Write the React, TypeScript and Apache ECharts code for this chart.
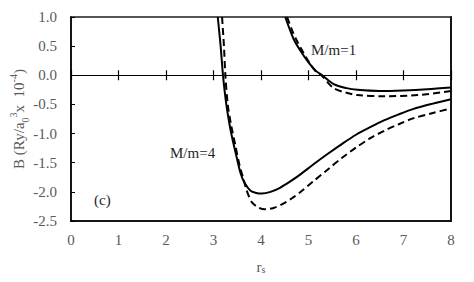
import React, { useEffect, useRef } from "react";
import * as echarts from "echarts";

// M/m = 1, solid
const m1SolidR = [4.51, 4.6, 4.7, 4.83, 5.0, 5.15, 5.29, 5.53, 5.8, 6.03, 6.5, 7.0, 7.5, 8.0];
const m1SolidB = [1.0, 0.8, 0.6, 0.42, 0.22, 0.08, 0.0, -0.15, -0.22, -0.25, -0.27, -0.26, -0.24, -0.21];
// M/m = 1, dashed
const m1DashR = [4.55, 4.65, 4.75, 4.87, 5.03, 5.15, 5.27, 5.53, 5.8, 6.03, 6.6, 7.3, 8.0];
const m1DashB = [1.0, 0.78, 0.6, 0.42, 0.2, 0.07, 0.0, -0.22, -0.3, -0.34, -0.36, -0.34, -0.27];
// M/m = 4, solid
const m4SolidR = [3.09, 3.15, 3.2, 3.27, 3.35, 3.42, 3.5, 3.57, 3.65, 3.78, 3.9, 4.02, 4.2, 4.4, 4.6, 4.83, 5.1, 5.4, 5.7, 6.0, 6.3, 6.6, 6.9, 7.2, 7.6, 8.0];
const m4SolidB = [1.0, 0.5, 0.0, -0.5, -0.9, -1.17, -1.45, -1.68, -1.84, -1.98, -2.02, -2.03, -2.0, -1.93, -1.83, -1.7, -1.53, -1.35, -1.18, -1.02, -0.89, -0.77, -0.67, -0.58, -0.49, -0.41];
// M/m = 4, dashed
const m4DashR = [3.18, 3.22, 3.25, 3.3, 3.37, 3.46, 3.55, 3.62, 3.7, 3.81, 3.95, 4.08, 4.25, 4.45, 4.65, 4.85, 5.1, 5.4, 5.7, 6.0, 6.3, 6.6, 6.9, 7.2, 7.6, 8.0];
const m4DashB = [1.0, 0.5, 0.0, -0.5, -0.85, -1.2, -1.55, -1.75, -1.98, -2.18, -2.27, -2.3, -2.28, -2.21, -2.11, -1.99, -1.82, -1.62, -1.42, -1.24, -1.08, -0.95, -0.84, -0.74, -0.65, -0.57];

const xTicks = { min: 0, max: 8, interval: 1 };
const yTicks = { min: -2.5, max: 1.0, interval: 0.5 };

const zip = (r: number[], b: number[]) => r.map((v, i) => [v, b[i]]);

const FONT = "Liberation Serif";
const GREY = "#595959";

export default function App() {
  const ref = useRef<HTMLDivElement>(null);
  useEffect(() => {
    if (!ref.current) return;
    const chart = echarts.init(ref.current, undefined, { renderer: "svg" });
    const lineSeries = (data: number[][], dashed: boolean) => ({
      type: "line",
      data,
      xAxisIndex: 0,
      yAxisIndex: 0,
      showSymbol: false,
      smooth: 0.3,
      clip: true,
      lineStyle: { color: "#000", width: 2, type: dashed ? [7, 4] : "solid" },
    });
    chart.setOption({
      animation: false,
      backgroundColor: "#fff",
      textStyle: { fontFamily: FONT },
      grid: {
        left: 71,
        right: 23,
        top: 17,
        bottom: 61,
        show: true,
        borderColor: "#555",
        borderWidth: 2,
        containLabel: false,
        outerBoundsMode: "none",
      },
      xAxis: [
        {
          type: "value",
          ...xTicks,
          position: "bottom",
          axisLine: { onZero: false, lineStyle: { color: "#000", width: 1.5 } },
          axisTick: { show: false },
          splitLine: { show: false },
          axisLabel: { color: GREY, fontFamily: FONT, fontSize: 15, margin: 11 },
          name: "r{s|s}",
          nameLocation: "middle",
          nameGap: 38,
          nameMoveOverlap: false,
          nameTextStyle: {
            color: GREY,
            fontFamily: FONT,
            fontSize: 15,
            rich: {
              s: { fontSize: 10, fontFamily: FONT, color: GREY, verticalAlign: "bottom", lineHeight: 12 },
            },
          },
        },
        {
          type: "value",
          ...xTicks,
          position: "bottom",
          axisLine: { onZero: true, lineStyle: { color: "#000", width: 1.2 } },
          axisTick: { show: true, inside: true, length: 5, lineStyle: { color: "#000", width: 1.2 } },
          axisLabel: { show: false },
          splitLine: { show: false },
        },
        {
          type: "value",
          ...xTicks,
          position: "top",
          axisLine: { onZero: true, lineStyle: { color: "#000", width: 1.2 } },
          axisTick: { show: true, inside: true, length: 5, lineStyle: { color: "#000", width: 1.2 } },
          axisLabel: { show: false },
          splitLine: { show: false },
        },
      ],
      yAxis: [
        {
          type: "value",
          ...yTicks,
          position: "left",
          axisLine: { show: true, onZero: false, lineStyle: { color: "#000", width: 1.5 } },
          axisTick: { show: true, inside: true, length: 4, lineStyle: { color: "#000" } },
          splitLine: { show: false },
          axisLabel: {
            color: GREY,
            fontFamily: FONT,
            fontSize: 15,
            margin: 14,
            formatter: (v: number) => v.toFixed(1),
          },
          name: "B (Ry/a{sub|0}{sup|3}x  10{sup|-4})",
          nameLocation: "middle",
          nameRotate: 90,
          nameGap: 41,
          nameMoveOverlap: false,
          nameTextStyle: {
            color: GREY,
            fontFamily: FONT,
            fontSize: 15,
            lineHeight: 22,
            rich: {
              sub: { fontSize: 10, fontFamily: FONT, color: GREY, verticalAlign: "bottom", lineHeight: 13 },
              sup: { fontSize: 10, fontFamily: FONT, color: GREY, verticalAlign: "top", lineHeight: 13 },
            },
          },
        },
        {
          type: "value",
          ...yTicks,
          position: "right",
          axisLine: { show: true, onZero: false, lineStyle: { color: "#000", width: 1.5 } },
          axisTick: { show: false },
          axisLabel: { show: false },
          splitLine: { show: false },
        },
      ],
      series: [
        lineSeries(zip(m1SolidR, m1SolidB), false),
        lineSeries(zip(m1DashR, m1DashB), true),
        lineSeries(zip(m4SolidR, m4SolidB), false),
        lineSeries(zip(m4DashR, m4DashB), true),
      ],
      graphic: [
        { type: "text", left: 311, top: 42, style: { text: "M/m=1", fontFamily: FONT, fontSize: 15, fill: "#262626" } },
        { type: "text", left: 170, top: 145, style: { text: "M/m=4", fontFamily: FONT, fontSize: 15, fill: "#262626" } },
        { type: "text", left: 94, top: 192, style: { text: "(c)", fontFamily: FONT, fontSize: 15, fill: "#262626" } },
      ],
    });
    return () => chart.dispose();
  }, []);
  return <div ref={ref} style={{ width: 474, height: 282, position: "absolute", left: 0, top: 0 }} />;
}
